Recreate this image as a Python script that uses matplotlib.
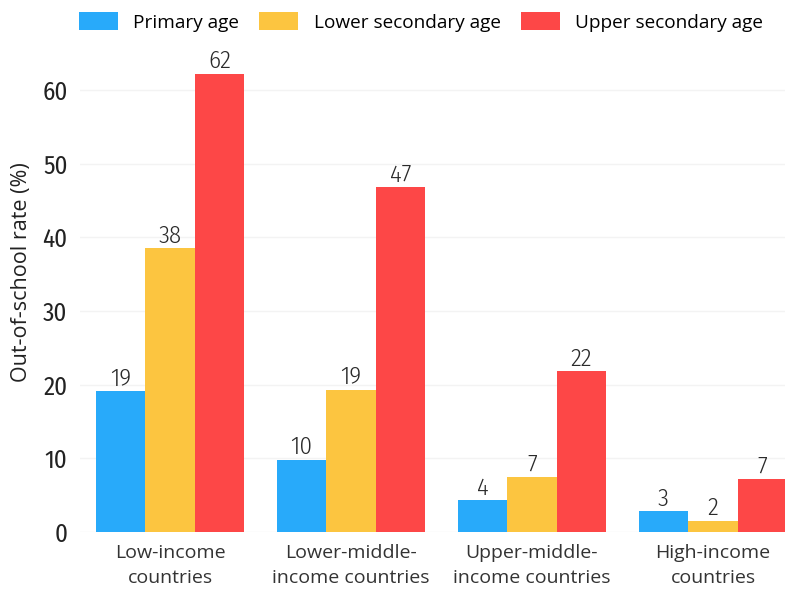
import matplotlib
matplotlib.use("Agg")
import matplotlib.pyplot as plt
import numpy as np

categories = ["Low-income\ncountries", "Lower-middle-\nincome countries",
              "Upper-middle-\nincome countries", "High-income\ncountries"]
series_names = ["Primary age", "Lower secondary age", "Upper secondary age"]
primary = [19.1, 9.8, 4.3, 2.8]
lower_sec = [38.5, 19.3, 7.5, 1.5]
upper_sec = [62.2, 46.8, 21.8, 7.2]
labels_primary = ["19", "10", "4", "3"]
labels_lower = ["38", "19", "7", "2"]
labels_upper = ["62", "47", "22", "7"]
yticks = [0, 10, 20, 30, 40, 50, 60]

colors = ["#28aafa", "#fcc540", "#fd4747"]

num_font = ["Fira Sans Condensed", "Barlow Semi Condensed", "Archivo Narrow", "DejaVu Sans"]
txt_font = ["Open Sans", "DejaVu Sans"]

fig = plt.figure(figsize=(7.85, 5.9), dpi=100)
ax = fig.add_axes([80/785, 58/590, 705/785, 460.4/590])

x = np.arange(len(categories))
w = 0.2735
data = [primary, lower_sec, upper_sec]
labs = [labels_primary, labels_lower, labels_upper]
handles = []
for i, (vals, lab) in enumerate(zip(data, labs)):
    bars = ax.bar(x + (i - 1) * w, vals, width=w, color=colors[i], label=series_names[i], zorder=2)
    handles.append(bars)
    for b, t in zip(bars, lab):
        ax.text(b.get_x() + b.get_width() / 2, b.get_height() + 0.1, t,
                ha="center", va="bottom", fontsize=18, fontweight=300,
                family=num_font, color="#2a2a2a")

ax.set_xlim(-0.497, 3.398)
ax.set_ylim(0, 62.5)
ax.set_yticks(yticks)
ax.set_yticklabels([str(v) for v in yticks], family=num_font, fontsize=18, color="#222222")
ax.set_xticks(x)
ax.set_xticklabels(categories, family=txt_font, fontsize=14, color="#333333", linespacing=1.45)
ax.tick_params(axis="both", length=0)
ax.tick_params(axis="y", pad=9)
ax.tick_params(axis="x", pad=9)
ax.grid(axis="y", color="#f3f3f3", linewidth=1, zorder=0)
for s in ax.spines.values():
    s.set_visible(False)
fig.text(22/785, 1 - 272/590, "Out-of-school rate (%)", rotation=90, ha="center", va="center",
         family=txt_font, fontsize=15.5, color="#222222")

fig.legend(handles=handles, labels=series_names, loc="center left", bbox_to_anchor=(62/785, 1 - 22/590),
           ncol=3, frameon=False, prop={"family": txt_font, "size": 13.7},
           handlelength=2.05, handleheight=1.0, columnspacing=1.05, handletextpad=0.8)

fig.savefig("out.png", dpi=100)
